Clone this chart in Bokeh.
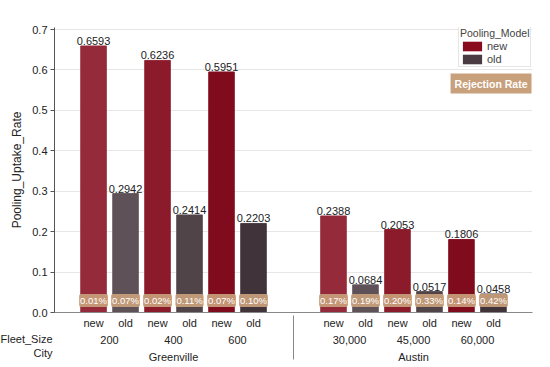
from bokeh.plotting import figure
from bokeh.models import (ColumnDataSource, FactorRange, Range1d, Label,
                          Legend, LegendItem, NumeralTickFormatter)
from bokeh.core.properties import value
from bokeh.embed import file_html
from bokeh.resources import INLINE

cities = ["Greenville", "Greenville", "Greenville", "Greenville", "Greenville", "Greenville",
          "Austin", "Austin", "Austin", "Austin", "Austin", "Austin"]
fleet_sizes = ["200", "200", "400", "400", "600", "600",
               "30,000", "30,000", "45,000", "45,000", "60,000", "60,000"]
models = ["new", "old"] * 6
uptake = [0.6593, 0.2942, 0.6236, 0.2414, 0.5951, 0.2203,
          0.2388, 0.0684, 0.2053, 0.0517, 0.1806, 0.0458]
rejection = ["0.01%", "0.07%", "0.02%", "0.11%", "0.07%", "0.10%",
             "0.17%", "0.19%", "0.20%", "0.33%", "0.14%", "0.42%"]
bar_colors = ["#952a3a", "#5f5158", "#8b1a2b", "#514449", "#800b1d", "#40333a",
              "#952a3a", "#5f5158", "#8b1a2b", "#514449", "#800b1d", "#40333a"]
y_ticks = [0.0, 0.1, 0.2, 0.3, 0.4, 0.5, 0.6, 0.7]
level_names = ["Fleet_Size", "City"]

FONT = "Liberation Sans"
TAN = "#c9a07c"

factors = list(zip(cities, fleet_sizes, models))
src = ColumnDataSource(dict(x=factors, top=uptake, color=bar_colors,
                            lbl=[f"{v:.4f}" for v in uptake], rej=rejection,
                            zero=[0.0] * len(uptake)))

xr = FactorRange(*factors, factor_padding=0.0, subgroup_padding=0.0, group_padding=1.5,
                 range_padding=0.72, range_padding_units="absolute")
p = figure(x_range=xr, y_range=Range1d(0, 0.705), width=550, height=367,
           output_backend="svg", toolbar_location=None,
           min_border_left=54, min_border_right=18, min_border_top=27, min_border_bottom=55)
p.outline_line_color = None
p.background_fill_color = "white"

p.vbar(x="x", top="top", width=0.8, source=src, fill_color="color",
       line_color="color", line_alpha=0.9)

p.text(x="x", y="top", text="lbl", source=src, text_align="center",
       text_baseline="bottom", y_offset=-1, text_font=value(FONT),
       text_font_size="11px", text_color="#222222")
p.text(x="x", y="zero", text="rej", source=src, text_align="center",
       text_baseline="middle", y_offset=-12, text_font=value(FONT),
       text_font_size="9.5px", text_color="white",
       background_fill_color=TAN, background_fill_alpha=0.92,
       padding=1, border_radius=2)

# legend
dummy_new = p.vbar(x=[factors[0]], top=[0], width=0.8, fill_color="#8a0a1e", line_color=None, visible=False)
dummy_old = p.vbar(x=[factors[1]], top=[0], width=0.8, fill_color="#4a3a42", line_color=None, visible=False)
legend = Legend(items=[LegendItem(label="new", renderers=[dummy_new]),
                       LegendItem(label="old", renderers=[dummy_old])],
                title="Pooling_Model", location=(404, 245), orientation="vertical",
                glyph_width=24, glyph_height=12, label_height=12, spacing=1, padding=1,
                margin=0, label_standoff=3, title_standoff=1,
                label_text_font=FONT, label_text_font_size="11px", title_text_font=FONT,
                title_text_font_size="10.5px", title_text_font_style="normal",
                border_line_color="#cccccc", background_fill_alpha=1.0)
p.add_layout(legend, "center")

p.add_layout(Label(x=531, y=73, x_units="canvas", y_units="canvas", text="Rejection Rate",
                   text_align="right", text_baseline="top", text_font=FONT,
                   text_font_size="10.5px", text_font_style="bold", text_color="white",
                   background_fill_color=TAN, padding=4))

# level names of the category axis, drawn at the left of its rows
p.add_layout(Label(x=52, y=332, x_units="canvas", y_units="canvas",
                   text="\n".join(level_names), text_align="right", text_baseline="top",
                   text_line_height=1.2, text_font=FONT, text_font_size="11px",
                   text_color="#222222"), "above")

# axes
p.yaxis.ticker = y_ticks
p.yaxis.formatter = NumeralTickFormatter(format="0.0")
p.yaxis.axis_label = "Pooling_Uptake_Rate"
p.yaxis.axis_label_text_font = FONT
p.yaxis.axis_label_text_font_size = "12px"
p.yaxis.axis_label_text_font_style = "normal"
p.yaxis.axis_label_text_color = "#222222"
p.yaxis.axis_label_standoff = 5
p.yaxis.major_label_text_font = FONT
p.yaxis.major_label_text_font_size = "11px"
p.yaxis.major_label_text_color = "#222222"
p.yaxis.major_label_standoff = 3
p.yaxis.axis_line_color = "#555555"
p.yaxis.major_tick_line_color = "#555555"
p.yaxis.major_tick_out = 4
p.yaxis.major_tick_in = 0
p.yaxis.minor_tick_line_color = None

p.xaxis.axis_line_color = "#888888"
p.xaxis.major_tick_line_color = None
p.xaxis.major_tick_out = 0
p.xaxis.major_tick_in = 0
p.xaxis.minor_tick_line_color = None
p.xaxis.major_label_text_font = FONT
p.xaxis.major_label_text_font_size = "11px"
p.xaxis.major_label_text_color = "#222222"
p.xaxis.subgroup_text_font = FONT
p.xaxis.subgroup_text_font_size = "11px"
p.xaxis.subgroup_text_font_style = "normal"
p.xaxis.subgroup_text_color = "#222222"
p.xaxis.group_text_font = FONT
p.xaxis.group_text_font_size = "11px"
p.xaxis.group_text_font_style = "normal"
p.xaxis.group_text_color = "#222222"
p.xaxis.separator_line_color = "#888888"
p.xaxis.separator_line_width = 1
p.xaxis.major_label_standoff = 4

p.xgrid.grid_line_color = None
p.ygrid.grid_line_color = "#e6e6e6"

open("out.html", "w").write(file_html(p, INLINE))
